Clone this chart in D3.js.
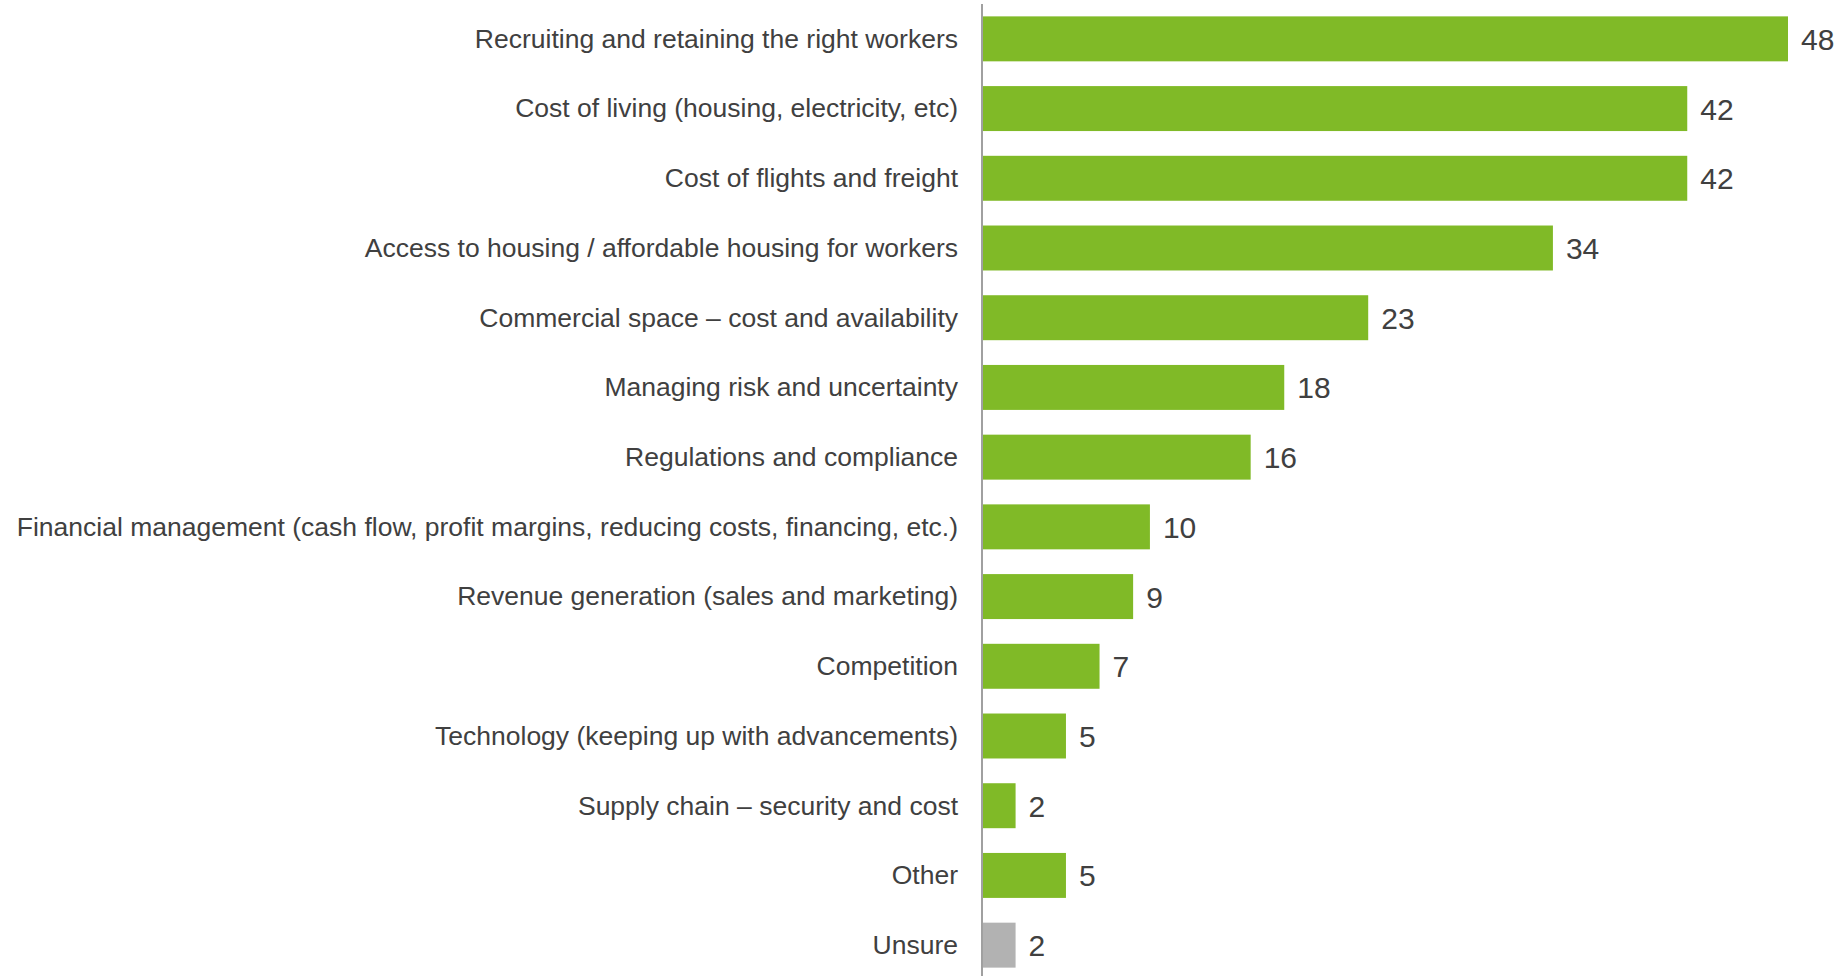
<!DOCTYPE html>
<html>
<head>
<meta charset="utf-8">
<script src="https://cdn.jsdelivr.net/npm/d3@7"></script>
<style>
  html, body { margin: 0; padding: 0; background: #ffffff; }
  svg { display: block; }
  text { font-family: "Liberation Sans", Arial, sans-serif; fill: #404040; }
</style>
</head>
<body>
<svg id="chart" width="1848" height="976"></svg>
<script>
// Survey responses: top challenges (%)
const categories = [
  "Recruiting and retaining the right workers",
  "Cost of living (housing, electricity, etc)",
  "Cost of flights and freight",
  "Access to housing / affordable housing for workers",
  "Commercial space \u2013 cost and availability",
  "Managing risk and uncertainty",
  "Regulations and compliance",
  "Financial management (cash flow, profit margins, reducing costs, financing, etc.)",
  "Revenue generation (sales and marketing)",
  "Competition",
  "Technology (keeping up with advancements)",
  "Supply chain \u2013 security and cost",
  "Other",
  "Unsure"
];
const values = [48, 42, 42, 34, 23, 18, 16, 10, 9, 7, 5, 2, 5, 2];
const neutralCategories = ["Unsure"];

const rows = categories.map((c, i) => ({ category: c, value: values[i] }));

const svg = d3.select("#chart");
const axisX = 982;

const x = d3.scaleLinear().domain([0, 48]).range([axisX, 1788]);
const y = d3.scaleBand()
  .domain(categories)
  .range([4, 980])
  .paddingInner(0.355)
  .paddingOuter(0.1775);

// bars
svg.append("g")
  .selectAll("rect")
  .data(rows)
  .join("rect")
  .attr("x", x(0))
  .attr("y", d => y(d.category))
  .attr("width", d => x(d.value) - x(0))
  .attr("height", y.bandwidth())
  .attr("fill", d => neutralCategories.includes(d.category) ? "#b2b2b2" : "#80ba27");

// category labels
svg.append("g")
  .selectAll("text")
  .data(rows)
  .join("text")
  .attr("x", 958)
  .attr("y", d => y(d.category) + y.bandwidth() / 2 + 8.8)
  .attr("text-anchor", "end")
  .style("font-size", "26.5px")
  .text(d => d.category);

// value labels
svg.append("g")
  .selectAll("text")
  .data(rows)
  .join("text")
  .attr("x", d => x(d.value) + 13)
  .attr("y", d => y(d.category) + y.bandwidth() / 2 + 11)
  .style("font-size", "30px")
  .text(d => d.value);

// vertical category axis line
svg.append("line")
  .attr("x1", axisX).attr("x2", axisX)
  .attr("y1", 4).attr("y2", 976)
  .attr("stroke", "#a0a0a0")
  .attr("stroke-width", 2);
</script>
</body>
</html>
